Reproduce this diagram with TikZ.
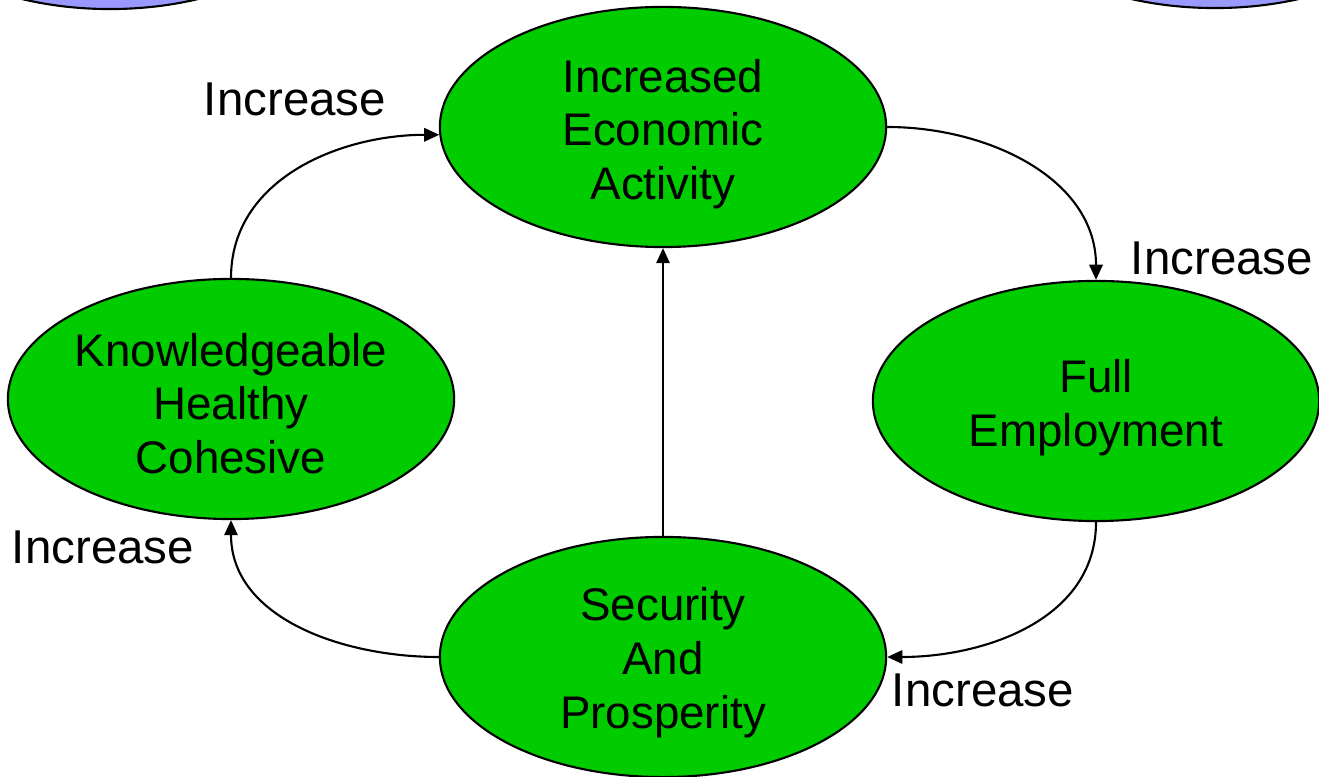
\documentclass[tikz,border=0pt]{standalone}
\usepackage{fontspec}
\setmainfont{Liberation Sans}
\usetikzlibrary{arrows.meta,shapes.geometric}

\definecolor{cyclegreen}{HTML}{00CC00}
\definecolor{cycleblue}{HTML}{9999FF}

\begin{document}
\begin{tikzpicture}[
		x=0.01cm, y=-0.01cm,
		font=\fontsize{13}{15.3}\selectfont,
		CycleBox/.style={draw, ellipse, fill=cyclegreen, line width=0.6pt,
			minimum width=4.46cm, minimum height=2.4cm, inner sep=0pt},
		CycleText/.style={align=center, inner sep=0pt},
		OuterBox/.style={draw, ellipse, fill=cycleblue, line width=0.6pt,
			minimum width=4.46cm, minimum height=2.48cm},
		CycleArrow/.style={line width=0.6pt, -{Triangle[length=4.3pt, width=3.8pt]}},
		IncLabel/.style={font=\fontsize{13.5}{16}\selectfont},
		]
		\useasboundingbox (0,0) rectangle (1319,777);
		\clip (0,0) rectangle (1319,777);
		% cut-off shapes at the top edge
		\node [OuterBox] (left) at (110,-115) {};
		\node [OuterBox] (right) at (1215,-116) {};
		% the cycle
		\node [CycleBox] (1) at (663,127) {};
		\node [CycleBox] (2) at (1096,401) {};
		\node [CycleBox] (3) at (663,657) {};
		\node [CycleBox] (4) at (231,399) {};
		\node [CycleText] (1t) at ([yshift=-2pt]1) {Increased\\Economic\\Activity};
		\node [CycleText] (2t) at ([yshift=-2pt]2) {Full\\Employment};
		\node [CycleText] (3t) at ([yshift=-1.7pt]3) {Security\\And\\Prosperity};
		\node [CycleText] (4t) at ([yshift=-1.3pt]4) {Knowledgeable\\Healthy\\Cohesive};
		
		\draw [CycleArrow] (1.east) to[out=0, in=90] (2.north);
		\draw [CycleArrow] (2.south) to[out=-90, in=0] (3.east);
		\draw [CycleArrow] (3.west) to[out=180, in=-90] (4.south);
		\draw [CycleArrow] (4.north) to[out=90, in=180] (1.182);
		\draw [CycleArrow] (3.north) -- (1.south);
		
		\node [IncLabel] (i1) at (295,99) {Increase};
		\node [IncLabel] (i2) at (1222,258) {Increase};
		\node [IncLabel] (i3) at (983,690) {Increase};
		\node [IncLabel] (i4) at (103,547) {Increase};
		
\end{tikzpicture}
\end{document}
